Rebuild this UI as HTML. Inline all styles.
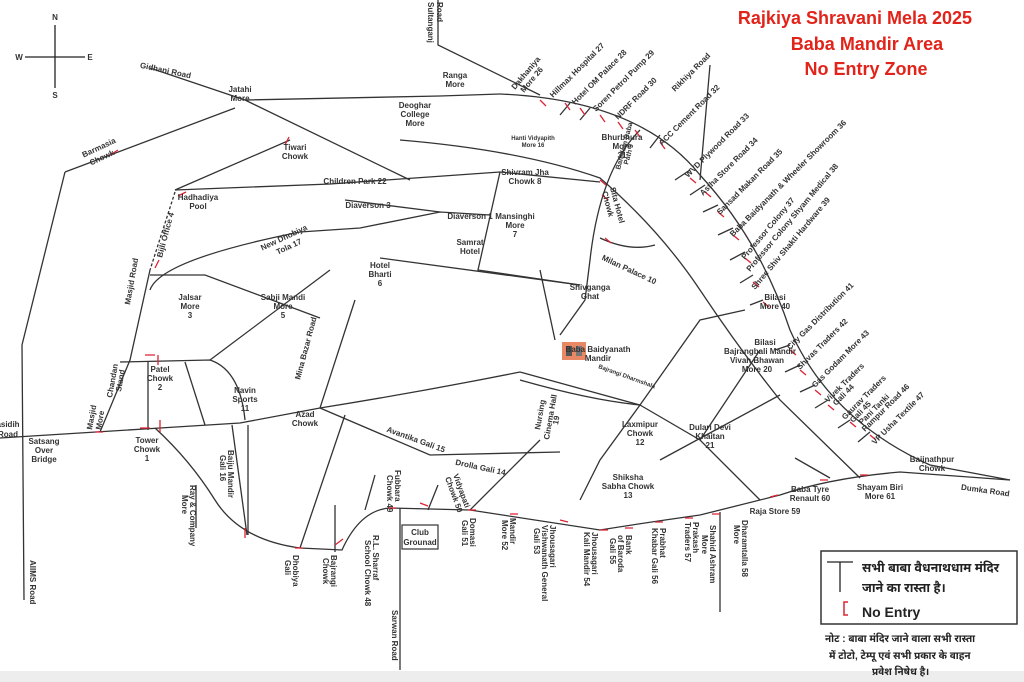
<!DOCTYPE html>
<html><head><meta charset="utf-8"><style>
html,body{margin:0;padding:0;background:#fff;}
svg{display:block;font-family:"Liberation Sans",sans-serif;}
.r{fill:none;stroke:#333;stroke-width:1.3}
.t{fill:#333;font-size:8px;font-weight:bold;text-anchor:middle}
.s{fill:#333;font-size:8px;font-weight:bold}
.x{stroke:#d23;stroke-width:1.3;fill:none}
</style></head><body>
<svg width="1024" height="682" viewBox="0 0 1024 682">
<rect width="1024" height="682" fill="#fff"/>
<rect x="0" y="671" width="1024" height="11" fill="#ededed"/>
<g stroke="#222" stroke-width="1.3"><line x1="55" y1="25" x2="55" y2="88"/><line x1="25" y1="57" x2="85" y2="57"/></g>
<text x="55" y="20" class="t">N</text><text x="55" y="98" class="t">S</text><text x="19" y="60" class="t">W</text><text x="90" y="60" class="t">E</text>
<g fill="#e2231a" font-weight="bold" font-size="18" text-anchor="middle">
<text x="855" y="24">Rajkiya Shravani Mela 2025</text>
<text x="867" y="50">Baba Mandir Area</text>
<text x="866" y="75">No Entry Zone</text></g>
<path class="r" d="M0,438 L160,428 L240,423 L320,408 Q420,392 520,372"/>
<path class="r" d="M155,428 Q190,460 215,500 Q240,540 300,548 L342,550 Q360,510 390,508 L470,510 L600,530 Q650,522 700,515 L780,495 Q830,478 900,472 L1010,480"/>
<path class="r" d="M65,172 L22,345 L24,600"/>
<path class="r" d="M65,172 L235,108"/>
<path class="r" d="M150,68 L245,100 L410,180"/>
<path class="r" d="M245,100 L440,96 L500,94"/>
<path class="r" d="M438,0 L438,45 L540,95"/>
<path class="r" d="M500,94 Q640,100 700,175 Q760,240 790,330 Q830,420 930,465 L1010,480"/>
<path class="r" d="M175,190 L330,184 L500,172 L600,182"/>
<path class="r" d="M175,190 L290,140"/>
<path class="r" d="M175,192 L150,270" stroke-dasharray="3,2"/>
<path class="r" d="M150,270 L130,360 L100,432"/>
<path class="r" d="M150,275 L205,275 L320,318"/>
<path class="r" d="M150,290 Q160,260 300,232 L360,228 L440,212 L490,215"/>
<path class="r" d="M345,200 L440,212"/>
<path class="r" d="M500,172 L478,270 L580,285"/>
<path class="r" d="M400,140 Q520,150 600,178 Q660,230 700,290 Q740,350 780,400 L860,478"/>
<path class="r" d="M640,130 Q600,170 590,260 L585,300 L560,335"/>
<path class="r" d="M600,238 Q630,252 655,245"/>
<path class="r" d="M540,270 L555,340"/>
<path class="r" d="M380,258 L580,285"/>
<path class="r" d="M120,362 L210,360 Q240,370 245,420"/>
<path class="r" d="M148,362 L148,430"/>
<path class="r" d="M185,362 L205,425"/>
<path class="r" d="M210,360 L330,270"/>
<path class="r" d="M320,408 L355,300"/>
<path class="r" d="M320,408 L430,455 L560,452"/>
<path class="r" d="M232,425 L247,535"/>
<path class="r" d="M345,415 L300,548"/>
<path class="r" d="M470,510 L540,440"/>
<path class="r" d="M520,372 L640,405 L700,320 L745,310"/>
<path class="r" d="M640,405 L700,440 L760,500"/>
<path class="r" d="M640,405 L600,460 L580,500"/>
<path class="r" d="M760,350 L700,440"/>
<path class="r" d="M780,395 L660,460"/>
<path class="r" d="M795,458 L830,478"/>
<path class="r" d="M520,380 Q590,400 640,405"/>
<g class="r"><line x1="400" y1="508" x2="400" y2="670"/><line x1="720" y1="512" x2="720" y2="612"/><line x1="335" y1="505" x2="335" y2="552"/><line x1="375" y1="475" x2="365" y2="510"/><line x1="438" y1="485" x2="428" y2="510"/><line x1="196" y1="485" x2="196" y2="528"/><line x1="248" y1="425" x2="248" y2="535"/><line x1="700" y1="180" x2="710" y2="65"/></g>
<rect x="402" y="525" width="36" height="24" fill="#fff" stroke="#333" stroke-width="1.2"/>
<text x="420" y="535" class="t" font-size="7">Club</text><text x="420" y="545" class="t" font-size="7">Grounad</text>
<g class="r"><line x1="570" y1="103" x2="560" y2="115"/><line x1="590" y1="108" x2="580" y2="120"/><line x1="660" y1="135" x2="650" y2="148"/><line x1="690" y1="170" x2="675" y2="180"/><line x1="705" y1="185" x2="690" y2="195"/><line x1="718" y1="205" x2="703" y2="212"/><line x1="733" y1="228" x2="718" y2="235"/><line x1="745" y1="252" x2="730" y2="260"/><line x1="753" y1="275" x2="740" y2="283"/><line x1="763" y1="300" x2="750" y2="305"/><line x1="790" y1="345" x2="775" y2="350"/><line x1="800" y1="365" x2="785" y2="372"/><line x1="815" y1="385" x2="800" y2="392"/><line x1="828" y1="400" x2="815" y2="408"/><line x1="850" y1="420" x2="838" y2="428"/><line x1="870" y1="432" x2="858" y2="442"/></g>
<g class="x">
<path d="M110,155 l8,-5 M178,196 l8,-4 M158,355 l0,10 M145,355 l10,0 M140,428 l10,0 M160,420 l0,12 M95,432 l8,0 M155,268 l4,-8 M285,145 l4,-8 M245,528 l0,10 M295,548 l8,0 M335,545 l8,-6 M388,508 l8,0 M420,503 l8,3 M468,510 l8,0 M510,514 l8,0 M560,520 l8,2 M600,530 l8,0 M625,528 l8,0 M655,522 l8,0 M685,518 l8,0 M712,514 l8,0 M770,497 l8,-2 M820,480 l8,0 M860,475 l8,0 M540,100 l6,6 M565,103 l5,7 M580,108 l5,7 M600,115 l5,7 M618,122 l5,7 M635,130 l5,7 M660,142 l5,7 M690,178 l6,5 M705,192 l6,5 M718,212 l6,5 M733,235 l6,5 M745,258 l6,5 M753,282 l6,5 M763,302 l6,5 M790,350 l6,5 M800,370 l6,5 M815,390 l6,5 M828,405 l6,5 M850,422 l6,5 M870,435 l6,5 M600,180 l6,5 M602,195 l6,5 M605,238 l6,5"/>
</g>
<g><rect x="562" y="342" width="24" height="18" fill="#e06030" opacity=".75"/><rect x="566" y="346" width="6" height="10" fill="#555"/><rect x="576" y="346" width="6" height="10" fill="#777"/></g>
<g class="t">
<text x="165" y="73" transform="rotate(12 165 73)">Gidhani Road</text>
<text x="240" y="92">Jatahi</text><text x="240" y="101">More</text>
<text x="100" y="150" transform="rotate(-25 100 150)">Barmasia</text><text x="103" y="160" transform="rotate(-25 103 160)">Chowk</text>
<text x="295" y="150">Tiwari</text><text x="295" y="159">Chowk</text>
<text x="415" y="108">Deoghar</text><text x="415" y="117">College</text><text x="415" y="126">More</text>
<text x="455" y="78">Ranga</text><text x="455" y="87">More</text>
<text x="355" y="184">Children Park 22</text>
<text x="198" y="200">Hadhadiya</text><text x="198" y="209">Pool</text>
<text x="368" y="208">Diaverson 3</text>
<text x="470" y="219">Diaverson 1</text>
<text x="525" y="175">Shivram Jha</text><text x="525" y="184">Chowk 8</text>
<text x="515" y="219">Mansinghi</text><text x="515" y="228">More</text><text x="515" y="237">7</text>
<text x="470" y="245">Samrat</text><text x="470" y="254">Hotel</text>
<text x="380" y="268">Hotel</text><text x="380" y="277">Bharti</text><text x="380" y="286">6</text>
<text x="590" y="290">Shivganga</text><text x="590" y="299">Ghat</text>
<text x="283" y="300">Sabji Mandi</text><text x="283" y="309">More</text><text x="283" y="318">5</text>
<text x="190" y="300">Jalsar</text><text x="190" y="309">More</text><text x="190" y="318">3</text>
<text x="160" y="372">Patel</text><text x="160" y="381">Chowk</text><text x="160" y="390">2</text>
<text x="245" y="393">Navin</text><text x="245" y="402">Sports</text><text x="245" y="411">11</text>
<text x="305" y="417">Azad</text><text x="305" y="426">Chowk</text>
<text x="147" y="443">Tower</text><text x="147" y="452">Chowk</text><text x="147" y="461">1</text>
<text x="44" y="444">Satsang</text><text x="44" y="453">Over</text><text x="44" y="462">Bridge</text>
<text x="8" y="427">asidih</text><text x="8" y="437">Road</text>
<text x="598" y="352">Baba Baidyanath</text><text x="598" y="361">Mandir</text>
<text x="640" y="427">Laxmipur</text><text x="640" y="436">Chowk</text><text x="640" y="445">12</text>
<text x="710" y="430">Dulari Devi</text><text x="710" y="439">Khaitan</text><text x="710" y="448">21</text>
<text x="628" y="480">Shiksha</text><text x="628" y="489">Sabha Chowk</text><text x="628" y="498">13</text>
<text x="765" y="345">Bilasi</text><text x="760" y="354">Bajrangbali Mandir</text><text x="757" y="363">Vivah Bhawan</text><text x="757" y="372">More 20</text>
<text x="775" y="300">Bilasi</text><text x="775" y="309">More 40</text>
<text x="810" y="492">Baba Tyre</text><text x="810" y="501">Renault 60</text>
<text x="880" y="490">Shayam Biri</text><text x="880" y="499">More 61</text>
<text x="775" y="514">Raja Store 59</text>
<text x="932" y="462">Baijnathpur</text><text x="932" y="471">Chowk</text>
<text x="985" y="493" transform="rotate(8 985 493)">Dumka Road</text>
<text x="622" y="140">Bhurbhura</text><text x="622" y="149">More</text><text x="622" y="158">31</text>
<text x="628" y="272" transform="rotate(25 628 272)">Milan Palace 10</text>
<text x="533" y="140" font-size="6">Hanti Vidyapith</text><text x="533" y="147" font-size="6">More 16</text>
<text x="285" y="240" transform="rotate(-25 285 240)">New Dhobiya</text><text x="290" y="249" transform="rotate(-25 290 249)">Tola 17</text>
<text x="415" y="442" transform="rotate(20 415 442)">Avantika Gali 15</text>
<text x="480" y="470" transform="rotate(12 480 470)">Drolla Gali 14</text>
</g>
<g class="s">
<text transform="translate(428,2) rotate(90)">Sultanganj</text><text transform="translate(437,2) rotate(90)">Road</text>
<text transform="translate(130,305) rotate(-80)">Masjid Road</text>
<text transform="translate(162,258) rotate(-75)">Bijli Office 4</text>
<text transform="translate(112,398) rotate(-80)">Chandan</text><text transform="translate(121,392) rotate(-80)">Stand</text>
<text transform="translate(92,430) rotate(-80)">Masjid</text><text transform="translate(101,430) rotate(-80)">More</text>
<text transform="translate(30,560) rotate(90)">AIIMS Road</text>
<text transform="translate(300,380) rotate(-75)">Mina Bazar Road</text>
<text transform="translate(228,450) rotate(90)">Baiju Mandir</text><text transform="translate(220,455) rotate(90)">Gali 16</text>
<text transform="translate(190,485) rotate(90)">Ray &amp; Company</text><text transform="translate(182,495) rotate(90)">More</text>
<text transform="translate(293,555) rotate(90)">Dhobiya</text><text transform="translate(285,560) rotate(90)">Gali</text>
<text transform="translate(331,555) rotate(90)">Bajrangi</text><text transform="translate(323,558) rotate(90)">Chowk</text>
<text transform="translate(373,535) rotate(90)">R.L. Sharraf</text><text transform="translate(365,540) rotate(90)">School Chowk 48</text>
<text transform="translate(395,470) rotate(90)">Fubbara</text><text transform="translate(387,475) rotate(90)">Chowk 49</text>
<text transform="translate(453,475) rotate(70)">Vidyapati</text><text transform="translate(445,478) rotate(70)">Chowk 50</text>
<text transform="translate(470,518) rotate(90)">Domasi</text><text transform="translate(462,520) rotate(90)">Gali 51</text>
<text transform="translate(510,518) rotate(90)">Mandir</text><text transform="translate(502,520) rotate(90)">More 52</text>
<text transform="translate(550,525) rotate(90)">Jhousagari</text><text transform="translate(542,525) rotate(90)">Vishwanath General</text><text transform="translate(534,528) rotate(90)">Gali 53</text>
<text transform="translate(592,532) rotate(90)">Jhousagari</text><text transform="translate(584,532) rotate(90)">Kali Mandir 54</text>
<text transform="translate(626,535) rotate(90)">Bank</text><text transform="translate(618,535) rotate(90)">of Baroda</text><text transform="translate(610,538) rotate(90)">Gali 55</text>
<text transform="translate(660,528) rotate(90)">Prabhat</text><text transform="translate(652,528) rotate(90)">Khabar Gali 56</text>
<text transform="translate(693,522) rotate(90)">Prakash</text><text transform="translate(685,522) rotate(90)">Traders 57</text>
<text transform="translate(742,520) rotate(90)">Dharamtalla 58</text><text transform="translate(734,525) rotate(90)">More</text>
<text transform="translate(710,525) rotate(90)">Shahid Ashram</text><text transform="translate(702,535) rotate(90)">More</text>
<text transform="translate(392,610) rotate(90)">Sarwan Road</text>
<text transform="translate(540,430) rotate(-80)">Nursing</text><text transform="translate(549,440) rotate(-80)">Cinema Hall</text><text transform="translate(558,425) rotate(-80)">19</text>
<text transform="translate(598,368) rotate(20)" font-size="6">Bajrangi Dharmshala</text>
<text transform="translate(610,188) rotate(75)">Sita Hotel</text><text transform="translate(602,192) rotate(75)">Chowk</text>
<text transform="translate(620,170) rotate(-75)" font-size="7">Bamdam Baba</text><text transform="translate(628,165) rotate(-75)" font-size="7">Path 9</text>
<text transform="translate(515,90) rotate(-50)">Dakhaniya</text><text transform="translate(524,93) rotate(-50)">More 26</text>
<text transform="translate(553,98) rotate(-45)">Hillmax Hospital 27</text>
<text transform="translate(575,105) rotate(-45)">Hotel OM Palace 28</text>
<text transform="translate(596,112) rotate(-45)">Soren Petrol Pump 29</text>
<text transform="translate(618,120) rotate(-45)">NDRF Road 30</text>
<text transform="translate(675,92) rotate(-45)">Rikhiya Road</text>
<text transform="translate(662,146) rotate(-45)">ACC Cement Road 32</text>
<text transform="translate(688,178) rotate(-45)">WVD Plywood Road 33</text>
<text transform="translate(703,196) rotate(-45)">Astha Store Road 34</text>
<text transform="translate(720,215) rotate(-45)">Sansad Makan Road 35</text>
<text transform="translate(733,237) rotate(-45)">Baba Baidyanath &amp; Wheeler Showroom 36</text>
<text transform="translate(745,260) rotate(-50)">Professor Colony 37</text>
<text transform="translate(750,272) rotate(-50)">Professor Colony Shyam Medical 38</text>
<text transform="translate(755,290) rotate(-50)">Shree Shiv Shakti Hardware 39</text>
<text transform="translate(790,350) rotate(-45)">City Gas Distribution 41</text>
<text transform="translate(800,370) rotate(-45)">Shivas Traders 42</text>
<text transform="translate(815,388) rotate(-45)">Gas Godam More 43</text>
<text transform="translate(828,403) rotate(-45)">Vivek Traders</text><text transform="translate(836,406) rotate(-45)">Gali 44</text>
<text transform="translate(845,420) rotate(-45)">Gaurav Traders</text><text transform="translate(853,423) rotate(-45)">Gali 45</text>
<text transform="translate(862,425) rotate(-45)">Pani Tanki</text><text transform="translate(865,432) rotate(-45)">Rampur Road 46</text>
<text transform="translate(875,445) rotate(-45)">VP Usha Textile 47</text>
</g>
<rect x="821" y="551" width="196" height="73" fill="#fff" stroke="#333" stroke-width="1.5"/>
<g stroke="#222" stroke-width="1.3"><line x1="827" y1="562" x2="853" y2="562"/><line x1="840" y1="562" x2="840" y2="592"/></g>
<path d="M848,602 l-4,0 l0,13 l4,0" stroke="#d23" stroke-width="1.5" fill="none"/>
<g font-family="'Liberation Sans','Noto Sans Devanagari',sans-serif" font-weight="bold" fill="#222">
<text x="862" y="572" font-size="12.5">सभी बाबा वैधनाथधाम मंदिर</text>
<text x="862" y="592" font-size="12.5">जाने का रास्ता है।</text>
<text x="862" y="617" font-size="14">No Entry</text>
<text x="825" y="642" font-size="10">नोट : बाबा मंदिर जाने वाला सभी रास्ता</text>
<text x="829" y="659" font-size="10">में टोटो, टेम्पू एवं सभी प्रकार के वाहन</text>
<text x="872" y="675" font-size="10">प्रवेश निषेध है।</text>
</g>
</svg>
</body></html>
